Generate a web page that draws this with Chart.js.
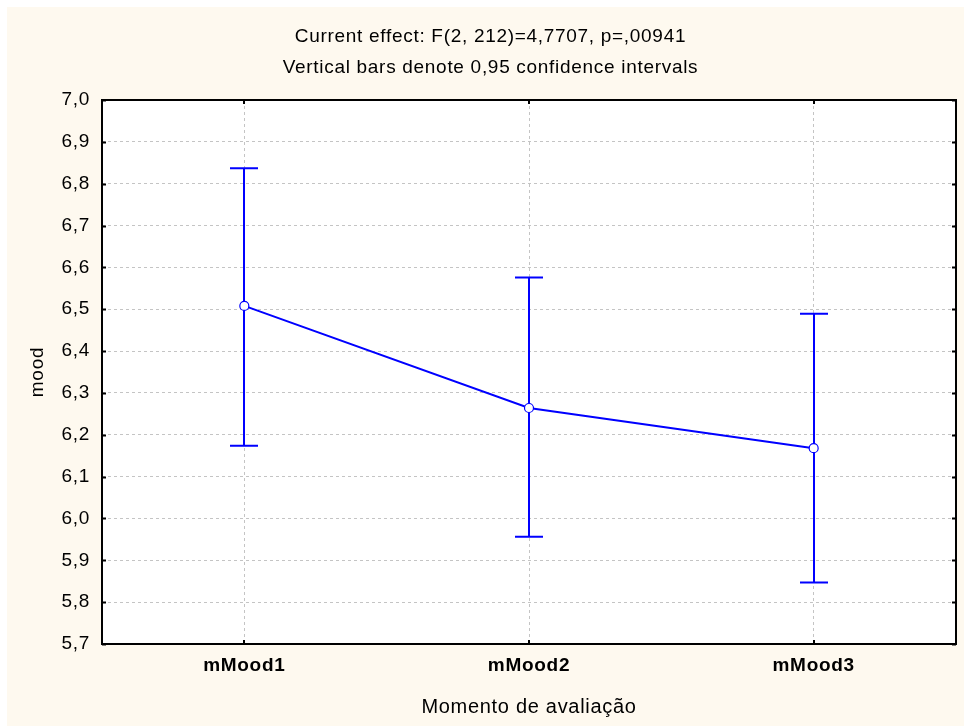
<!DOCTYPE html>
<html><head><meta charset="utf-8">
<script src="https://cdn.jsdelivr.net/npm/chart.js@4/dist/chart.umd.min.js"></script>
<style>
html,body{margin:0;padding:0;background:#fff;width:964px;height:726px;overflow:hidden;}
#wrap{position:absolute;left:7px;top:7px;width:957px;height:719px;background:#FEF9EF;}
canvas{display:block;}
</style></head><body>
<div id="wrap"><canvas id="c" width="957" height="719"></canvas></div>
<script>
const categories = ['mMood1', 'mMood2', 'mMood3'];
const means = [6.508, 6.264, 6.168];
const upperCI = [6.837, 6.576, 6.489];
const lowerCI = [6.174, 5.956, 5.847];
const yTickValues = [5.7, 5.8, 5.9, 6.0, 6.1, 6.2, 6.3, 6.4, 6.5, 6.6, 6.7, 6.8, 6.9, 7.0];
const yTickLabels = ['5,7', '5,8', '5,9', '6,0', '6,1', '6,2', '6,3', '6,4', '6,5', '6,6', '6,7', '6,8', '6,9', '7,0'];
const titleLines = ['Current effect: F(2, 212)=4,7707, p=,00941', 'Vertical bars denote 0,95 confidence intervals'];
const xTitle = 'Momento de avaliação';
const yTitle = 'mood';

const FONT = "'Liberation Sans', Arial, sans-serif";
const BLUE = '#0000FF';

const spacing = {
  id: 'spacing',
  beforeInit(chart) { chart.ctx.letterSpacing = '0.7px'; },
  beforeLayout(chart) { chart.ctx.letterSpacing = '0.7px'; },
  beforeDraw(chart) { chart.ctx.letterSpacing = '0.7px'; }
};

const plotBg = {
  id: 'plotBg',
  beforeDraw(chart) {
    const {ctx, chartArea: a} = chart;
    ctx.save();
    ctx.fillStyle = '#FFFFFF';
    ctx.fillRect(a.left, a.top, a.right - a.left, a.bottom - a.top);
    ctx.restore();
  }
};

const errorBars = {
  id: 'errorBars',
  beforeDatasetsDraw(chart) {
    const {ctx, scales: {x, y}} = chart;
    ctx.save();
    ctx.strokeStyle = BLUE;
    ctx.lineWidth = 2;
    const cap = 14;
    for (let i = 0; i < categories.length; i++) {
      const px = Math.round(x.getPixelForValue(i));
      const yt = y.getPixelForValue(upperCI[i]);
      const yb = y.getPixelForValue(lowerCI[i]);
      ctx.beginPath();
      ctx.moveTo(px, yt); ctx.lineTo(px, yb);
      ctx.moveTo(px - cap, yt); ctx.lineTo(px + cap, yt);
      ctx.moveTo(px - cap, yb); ctx.lineTo(px + cap, yb);
      ctx.stroke();
    }
    ctx.restore();
  }
};

const frame = {
  id: 'frame',
  afterDraw(chart) {
    const {ctx, chartArea: a, scales: {x, y}} = chart;
    ctx.save();
    ctx.strokeStyle = '#000';
    ctx.lineWidth = 2;
    ctx.strokeRect(a.left, a.top, a.right - a.left, a.bottom - a.top);
    const tl = 4;
    ctx.beginPath();
    yTickValues.forEach(v => {
      const py = Math.round(y.getPixelForValue(v)) + 0.5;
      ctx.moveTo(a.left, py); ctx.lineTo(a.left + tl, py);
      ctx.moveTo(a.right, py); ctx.lineTo(a.right - tl, py);
    });
    categories.forEach((c, i) => {
      const px = Math.round(x.getPixelForValue(i));
      ctx.moveTo(px, a.bottom); ctx.lineTo(px, a.bottom - tl);
      ctx.moveTo(px, a.top); ctx.lineTo(px, a.top + tl);
    });
    ctx.stroke();
    ctx.restore();
  }
};

new Chart(document.getElementById('c'), {
  type: 'line',
  data: {
    labels: categories,
    datasets: [{
      data: means,
      borderColor: BLUE,
      borderWidth: 2,
      pointRadius: 4.5,
      pointBackgroundColor: '#FFFFFF',
      pointBorderColor: BLUE,
      pointBorderWidth: 1.2,
      tension: 0,
      fill: false
    }]
  },
  options: {
    responsive: false,
    animation: false,
    layout: { padding: { left: 18, right: 8, top: 0, bottom: 0 } },
    plugins: {
      legend: { display: false },
      tooltip: { enabled: false },
      title: {
        display: true,
        text: titleLines,
        color: '#000',
        font: { family: FONT, size: 19, weight: 'normal', lineHeight: '31px' },
        padding: { top: 14.5, bottom: 16.5 }
      }
    },
    scales: {
      x: {
        type: 'category',
        offset: true,
        grid: { display: true, color: '#C4C4C4', lineWidth: 1, drawTicks: false },
        border: { display: false, dash: [3, 3] },
        ticks: { color: '#000', font: { family: FONT, size: 19, weight: 'bold' }, padding: 10.6, maxRotation: 0 },
        title: { display: true, text: xTitle, color: '#000', font: { family: FONT, size: 20 }, padding: { top: 0, bottom: 7 } },
        afterFit(scale) { scale.height = 82; }
      },
      y: {
        min: 5.7,
        max: 7.0,
        afterBuildTicks(scale) { scale.ticks = yTickValues.map(v => ({ value: v })); },
        grid: { display: true, color: '#C4C4C4', lineWidth: 1, drawTicks: false },
        border: { display: false, dash: [3, 3] },
        ticks: {
          color: '#000',
          font: { family: FONT, size: 19 },
          padding: 12,
          callback: (v, i) => yTickLabels[i]
        },
        title: { display: true, text: yTitle, color: '#000', font: { family: FONT, size: 19 }, padding: { top: 1.6, bottom: 0 } },
        afterFit(scale) { scale.width = 77; }
      }
    }
  },
  plugins: [spacing, plotBg, errorBars, frame]
});
</script>
</body></html>
